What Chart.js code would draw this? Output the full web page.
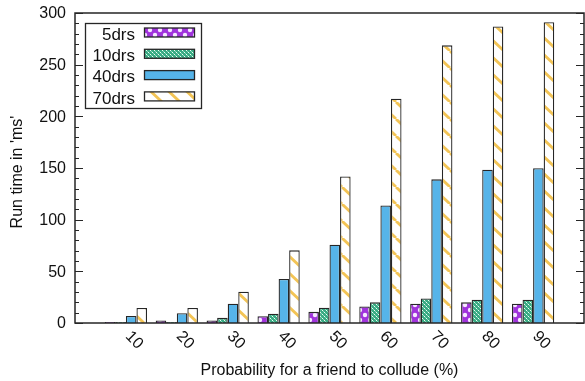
<!DOCTYPE html>
<html>
<head>
<meta charset="utf-8">
<script src="https://cdn.jsdelivr.net/npm/chart.js@4"></script>
<style>
  html, body { margin: 0; padding: 0; background: #fff; }
  #wrap { width: 585px; height: 381px; }
</style>
</head>
<body>
<div id="wrap"><canvas id="chart" width="585" height="381"></canvas></div>
<script>
const categories = ['10', '20', '30', '40', '50', '60', '70', '80', '90'];
const drs5 = [1, 2.5, 2.5, 6.5, 10.8, 16, 18.7, 20, 18.7];
const drs10 = [1, 1, 5, 9, 14.8, 20, 23.8, 22.5, 22.5];
const drs40 = [6.8, 9.4, 18.7, 42.6, 75.8, 113.8, 139, 148.4, 149.7];
const drs70 = [14.5, 14.5, 30.3, 70.3, 141.8, 217, 268.7, 287, 291];
const seriesNames = ['5drs', '10drs', '40drs', '70drs'];
const yTicks = [0, 50, 100, 150, 200, 250, 300];

const FONT = '"Liberation Sans", Arial, sans-serif';

// small repeating tiles for the gnuplot-like fill patterns
function makePattern(w, h, draw) {
  const c = document.createElement('canvas');
  c.width = w; c.height = h;
  const g = c.getContext('2d');
  draw(g, w, h);
  return g.createPattern(c, 'repeat');
}

const purpleFill = makePattern(10, 10, (g, w, h) => {
  g.fillStyle = '#a033dc';
  g.fillRect(0, 0, w, h);
  g.fillStyle = '#f6eaff';
  [[0, 0], [10, 0], [0, 10], [10, 10], [5, 5]].forEach(([x, y]) => {
    g.beginPath(); g.arc(x, y, 2.2, 0, Math.PI * 2); g.fill();
  });
});

const greenFill = makePattern(4, 4, (g, w, h) => {
  g.fillStyle = '#38ab83';
  g.fillRect(0, 0, w, h);
  g.fillStyle = '#effff7';
  g.fillRect(0, 0, 1, 1);
  g.fillRect(2, 2, 1, 1);
  g.fillStyle = 'rgba(255,255,255,0.45)';
  g.fillRect(1, 1, 1, 1);
  g.fillRect(3, 3, 1, 1);
});

const stripeFill = makePattern(18, 17, (g, w, h) => {
  g.fillStyle = '#ffffff';
  g.fillRect(0, 0, w, h);
  g.strokeStyle = '#f3c455';
  g.lineWidth = 2.8;
  [-w, 0, w].forEach(k => {
    g.beginPath(); g.moveTo(k, 0); g.lineTo(k + w, h); g.stroke();
  });
});

const fills = [purpleFill, greenFill, '#56b4e9', stripeFill];
const seriesData = [drs5, drs10, drs40, drs70];

// pad with an empty slot at 0 and 100 so the axis runs 0..100
const labels = ['', ...categories, ''];

const datasets = seriesNames.map((name, i) => ({
  label: name,
  data: [null, ...seriesData[i], null],
  backgroundColor: fills[i],
  borderColor: '#262626',
  borderWidth: 1.3,
  categoryPercentage: 0.83,
  barPercentage: 1
}));

const decorations = {
  id: 'decorations',
  afterDatasetsDraw(chart) {
    const { ctx, chartArea: a, scales } = chart;
    const y = scales.y, x = scales.x;
    ctx.save();

    // frame
    ctx.strokeStyle = '#262626';
    ctx.lineWidth = 1.5;
    ctx.strokeRect(a.left, a.top, a.right - a.left, a.bottom - a.top);

    // y ticks on both sides, minor every 10
    ctx.lineWidth = 1.2;
    for (let v = 0; v <= 300; v += 10) {
      const py = Math.round(y.getPixelForValue(v)) + 0.5;
      const len = v % 50 === 0 ? 8 : 4;
      ctx.beginPath();
      ctx.moveTo(a.left, py); ctx.lineTo(a.left + len, py);
      ctx.moveTo(a.right, py); ctx.lineTo(a.right - len, py);
      ctx.stroke();
    }

    // y tick labels
    ctx.fillStyle = '#111';
    ctx.font = '16px ' + FONT;
    ctx.textAlign = 'right';
    ctx.textBaseline = 'middle';
    yTicks.forEach(v => ctx.fillText(String(v), a.left - 9, y.getPixelForValue(v) + 1));

    // x tick labels, rotated clockwise
    ctx.textAlign = 'left';
    categories.forEach((c, i) => {
      const px = x.getPixelForValue(i + 1);
      ctx.save();
      ctx.translate(px + 2, a.bottom + 11);
      ctx.rotate(Math.PI / 4);
      ctx.fillText(c, 0, 0);
      ctx.restore();
    });

    // axis titles
    ctx.textAlign = 'center';
    ctx.fillText('Probability for a friend to collude (%)', (a.left + a.right) / 2, 371);
    ctx.save();
    ctx.translate(18, 172);
    ctx.rotate(-Math.PI / 2);
    ctx.fillText("Run time in 'ms'", 0, 0);
    ctx.restore();

    // legend inside the plot
    ctx.fillStyle = '#fff';
    ctx.fillRect(85, 23, 116, 85);
    ctx.strokeStyle = '#262626';
    ctx.lineWidth = 1.3;
    ctx.strokeRect(85.5, 23.5, 116, 85);
    ctx.font = '17px ' + FONT;
    chart.data.datasets.forEach((ds, i) => {
      const cy = 34 + i * 21.3;
      ctx.fillStyle = '#111';
      ctx.textAlign = 'right';
      ctx.fillText(ds.label, 135, cy + 1);
      ctx.fillStyle = ds.backgroundColor;
      ctx.fillRect(144, cy - 6, 50, 9);
      ctx.strokeStyle = '#262626';
      ctx.strokeRect(144.5, cy - 6, 50, 9);
    });

    ctx.restore();
  }
};

new Chart(document.getElementById('chart').getContext('2d'), {
  type: 'bar',
  data: { labels, datasets },
  options: {
    responsive: false,
    animation: false,
    layout: { padding: { left: 75, right: 1, top: 13, bottom: 58 } },
    plugins: { legend: { display: false }, tooltip: { enabled: false } },
    scales: {
      x: { display: false, offset: false },
      y: { display: false, min: 0, max: 300 }
    }
  },
  plugins: [decorations]
});
</script>
</body>
</html>
